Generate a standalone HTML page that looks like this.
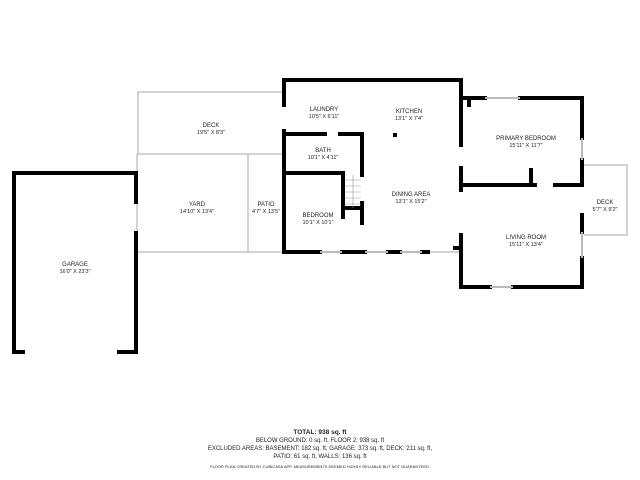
<!DOCTYPE html>
<html><head><style>
html,body{margin:0;padding:0;background:#fff;width:640px;height:480px;overflow:hidden}
svg text{font-family:"Liberation Sans",sans-serif;fill:#222;text-anchor:middle}
.l{font-size:6px}.d{font-size:5.5px}
</style></head><body>
<svg width="640" height="480" viewBox="0 0 640 480" xmlns="http://www.w3.org/2000/svg">
<g fill="none" stroke="#aaa" stroke-width="1">
<!-- left deck -->
<path d="M284 92 H138 V154 H284"/>
<path d="M137 154 V252 H460"/>
<path d="M248 154 V252"/>
<!-- right deck -->
<path d="M584 165 H627 V235 H584"/>
</g>
<g fill="none" stroke="#000" stroke-width="4" stroke-linecap="square">
<!-- garage -->
<path d="M23 352 H14 V173 H136 V202"/>
<path d="M136 233 V352 H119"/>
<!-- main -->
<path d="M284 105 V80 H461 V145"/>
<path d="M284 131 V252 H320"/>
<path d="M342 252 H365"/>
<path d="M388 252 H400"/>
<path d="M422 252 H428"/>
<path d="M461 168 V190"/>
<path d="M461 236 V258"/>
<path d="M284 134 H325 M340 134 H362 V175"/>
<path d="M284 173 H343 V217"/>
<path d="M344 208 H362"/>
<path d="M362 203 V223"/>
<!-- right part -->
<path d="M461 83 V98 H485 M520 98 H582 V138"/>
<path d="M582 160 V185 H555"/>
<path d="M461 185 H535 M531 170 V185 M461 170 V185"/>
<path d="M582 215 V232 M582 258 V287 H513 M490 287 H461 V235"/>
<path d="M455 248 H461"/>
<path d="M469 99 V105"/>
</g>
<g fill="none" stroke="#bbb" stroke-width="2">
<path d="M320 252 H342 M365 252 H388 M400 252 H422 M485 98 H520 M490 287 H513 M582 138 V160 M582 232 V258"/>
</g>
<g stroke="#999" stroke-width="0.6">
<path d="M345 180 H361 M345 186 H361 M345 192 H361 M345 198 H361 M345 204 H361 M353 175 V208"/>
</g>
<rect x="393" y="133" width="4" height="4" fill="#000"/>
<text class="l" x="75" y="266">GARAGE</text><text class="d" x="75" y="273">16'0" X 23'3"</text>
<text class="l" x="211" y="127">DECK</text><text class="d" x="211" y="134">19'5" X 8'3"</text>
<text class="l" x="197" y="206">YARD</text><text class="d" x="197" y="213">14'10" X 13'4"</text>
<text class="l" x="266" y="206">PATIO</text><text class="d" x="266" y="213">4'7" X 13'5"</text>
<text class="l" x="324" y="111">LAUNDRY</text><text class="d" x="324" y="118">10'5" X 6'11"</text>
<text class="l" x="409" y="113">KITCHEN</text><text class="d" x="409" y="120">13'1" X 7'4"</text>
<text class="l" x="323" y="152">BATH</text><text class="d" x="323" y="159">10'1" X 4'11"</text>
<text class="l" x="318" y="217">BEDROOM</text><text class="d" x="318" y="224">10'1" X 10'1"</text>
<text class="l" x="411" y="196">DINING AREA</text><text class="d" x="411" y="203">13'1" X 15'2"</text>
<text class="l" x="526" y="140">PRIMARY BEDROOM</text><text class="d" x="526" y="147">15'11" X 11'7"</text>
<text class="l" x="526" y="239">LIVING ROOM</text><text class="d" x="526" y="246">15'11" X 13'4"</text>
<text class="l" x="605" y="204">DECK</text><text class="d" x="605" y="211">5'7" X 9'2"</text>
<text x="320" y="434" style="font-size:6.5px;font-weight:bold">TOTAL: 938 sq. ft</text>
<text x="320" y="442" style="font-size:6px">BELOW GROUND: 0 sq. ft, FLOOR 2: 938 sq. ft</text>
<text x="320" y="450" style="font-size:6px">EXCLUDED AREAS: BASEMENT: 182 sq. ft, GARAGE: 373 sq. ft, DECK: 211 sq. ft,</text>
<text x="320" y="458" style="font-size:6px">PATIO: 61 sq. ft, WALLS: 136 sq. ft</text>
<text x="320" y="468" style="font-size:4px">FLOOR PLAN CREATED BY CUBICASA APP. MEASUREMENTS DEEMED HIGHLY RELIABLE BUT NOT GUARANTEED.</text>
</svg>
</body></html>
